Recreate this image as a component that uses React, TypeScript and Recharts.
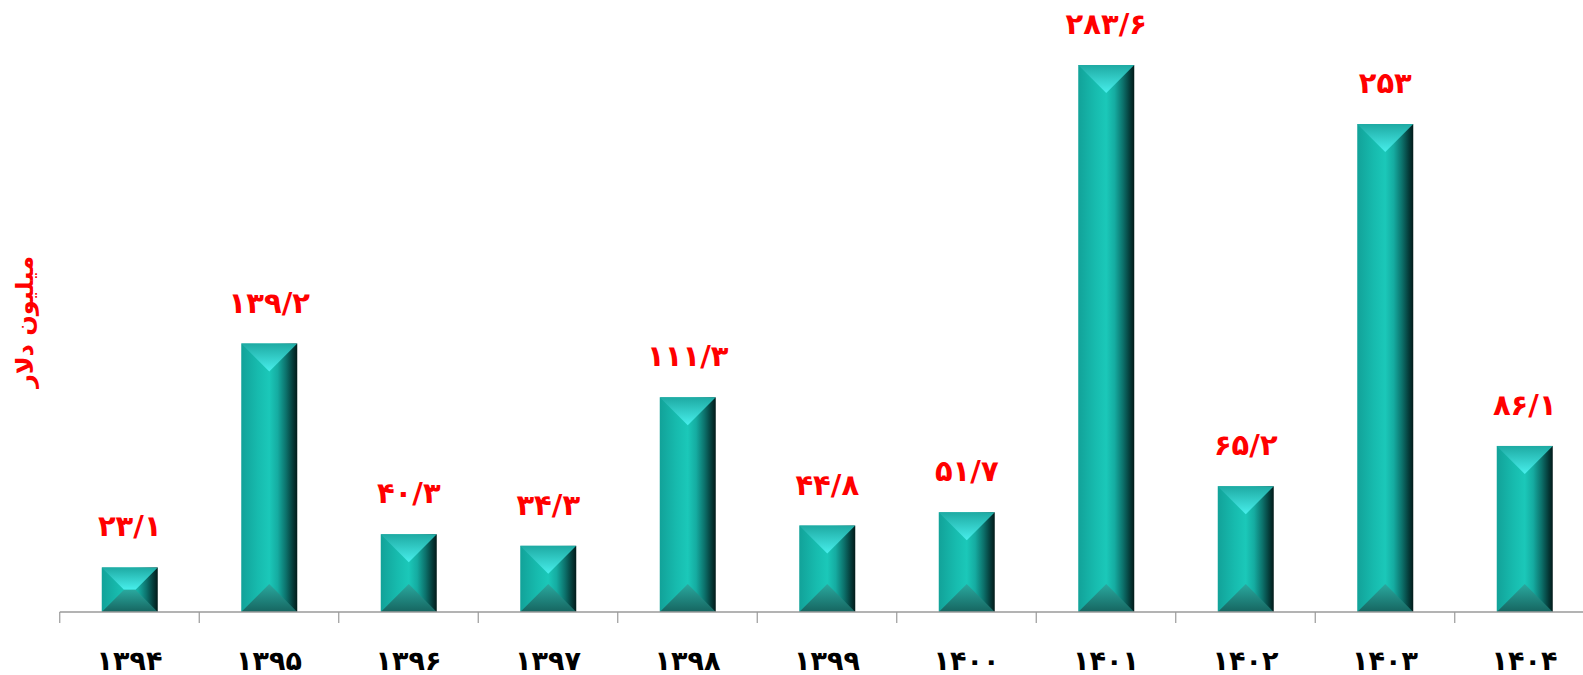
import React from 'react';
import { BarChart, Bar, XAxis, YAxis, LabelList } from 'recharts';

const years = ['۱۳۹۴', '۱۳۹۵', '۱۳۹۶', '۱۳۹۷', '۱۳۹۸', '۱۳۹۹', '۱۴۰۰', '۱۴۰۱', '۱۴۰۲', '۱۴۰۳', '۱۴۰۴'];
const values = [23.1, 139.2, 40.3, 34.3, 111.3, 44.8, 51.7, 283.6, 65.2, 253, 86.1];
const yDomain = [0, 300];
const yTitle = 'میلیون دلار';

const data = years.map((y, i) => ({ year: y, value: values[i] }));

const FONT = '"DejaVu Sans", sans-serif';
const MARGIN_LEFT = 59.75;
const PLOT_W = 1534.5;
const CHART_W = 1595;
const CHART_H = 675;
const CAT_W = PLOT_W / years.length;

const faDigits = ['۰', '۱', '۲', '۳', '۴', '۵', '۶', '۷', '۸', '۹'];
const toFa = (v: number) =>
  String(v)
    .replace('.', '/')
    .replace(/[0-9]/g, (d) => faDigits[Number(d)]);

const BevelBar = (props: any) => {
  const { x, y, width, height } = props;
  if (!height || height <= 0) return null;
  const d = Math.min(width / 2, height / 2);
  const b = y + height;
  return (
    <g>
      <rect x={x} y={y} width={width} height={height} fill="url(#barBody)" />
      <polygon
        points={`${x},${y} ${x + width},${y} ${x + width - d},${y + d} ${x + d},${y + d}`}
        fill="url(#barTop)"
      />
      <polygon
        points={`${x},${b} ${x + width},${b} ${x + width - d},${b - d} ${x + d},${b - d}`}
        fill="url(#barBottom)"
      />
    </g>
  );
};

const XTick = (props: any) => {
  const { x, y, payload, index } = props;
  const last = index === years.length - 1;
  return (
    <g>
      <line x1={x - CAT_W / 2} x2={x - CAT_W / 2} y1={y} y2={y + 11} stroke="#9a9a9a" strokeWidth={1.2} />
      {last && (
        <line x1={x + CAT_W / 2} x2={x + CAT_W / 2} y1={y} y2={y + 11} stroke="#9a9a9a" strokeWidth={1.2} />
      )}
      <text
        x={x}
        y={y + 58}
        textAnchor="middle"
        fill="#000"
        fontFamily={FONT}
        fontWeight="bold"
        fontSize={27}
      >
        {payload.value}
      </text>
    </g>
  );
};

const ValueLabel = (props: any) => {
  const { x, y, width, value } = props;
  return (
    <text
      x={x + width / 2}
      y={y - 31}
      textAnchor="middle"
      fill="#ff0000"
      fontFamily={FONT}
      fontWeight="bold"
      fontSize={29}
    >
      {toFa(value)}
    </text>
  );
};

export default function App() {
  return (
    <div
      style={{
        position: 'absolute',
        left: 0,
        top: 0,
        width: 1583,
        height: 675,
        overflow: 'hidden',
        background: '#fff',
      }}
    >
      <BarChart
        width={CHART_W}
        height={CHART_H}
        data={data}
        margin={{ top: 33.4, right: CHART_W - MARGIN_LEFT - PLOT_W, bottom: 0, left: MARGIN_LEFT }}
        barCategoryGap={0}
      >
        <defs>
          <linearGradient id="barBody" x1="0" y1="0" x2="1" y2="0">
            <stop offset="0%" stopColor="#12a299" />
            <stop offset="30%" stopColor="#17bbae" />
            <stop offset="50%" stopColor="#1bc8b9" />
            <stop offset="65%" stopColor="#15aca1" />
            <stop offset="80%" stopColor="#0c716b" />
            <stop offset="92%" stopColor="#053b39" />
            <stop offset="100%" stopColor="#021a19" />
          </linearGradient>
          <linearGradient id="barTop" x1="0" y1="0" x2="0" y2="1">
            <stop offset="0%" stopColor="#1eaaa3" />
            <stop offset="100%" stopColor="#48efec" />
          </linearGradient>
          <linearGradient id="barBottom" x1="0" y1="0" x2="0" y2="1">
            <stop offset="0%" stopColor="#2aa99f" />
            <stop offset="100%" stopColor="#166560" />
          </linearGradient>
        </defs>
        <XAxis
          dataKey="year"
          height={63}
          interval={0}
          tickSize={0}
          tickMargin={0}
          tickLine={false}
          axisLine={{ stroke: '#9a9a9a', strokeWidth: 1.5 }}
          tick={<XTick />}
        />
        <YAxis hide domain={yDomain} />
        <Bar dataKey="value" barSize={56} shape={<BevelBar />} isAnimationActive={false}>
          <LabelList dataKey="value" content={<ValueLabel />} />
        </Bar>
      </BarChart>
      <svg
        width={70}
        height={675}
        style={{ position: 'absolute', left: 0, top: 0, pointerEvents: 'none' }}
      >
        <text
          x={0}
          y={0}
          transform="translate(33,322) rotate(-90)"
          textAnchor="middle"
          fill="#ff0000"
          fontFamily={FONT}
          fontWeight="bold"
          fontSize={24}
        >
          {yTitle}
        </text>
      </svg>
    </div>
  );
}
